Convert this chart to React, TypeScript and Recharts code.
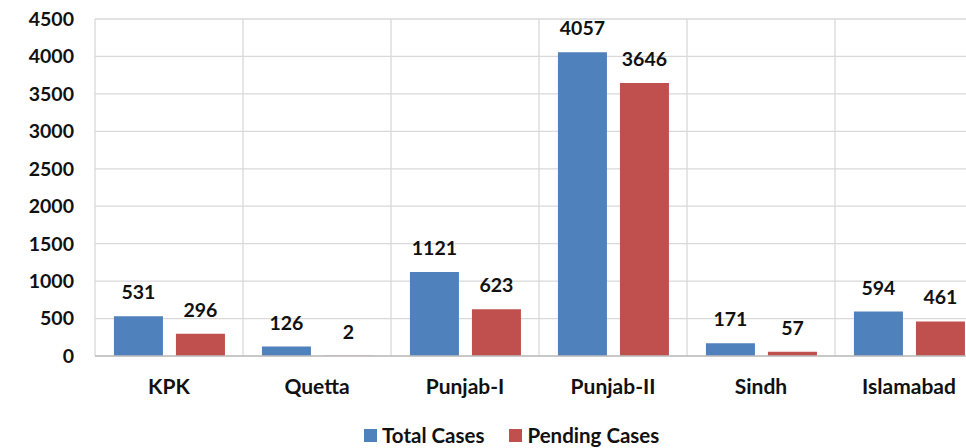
import React from 'react';
import { BarChart, Bar, XAxis, YAxis, CartesianGrid, Legend, LabelList } from 'recharts';

const regions = ['KPK', 'Quetta', 'Punjab-I', 'Punjab-II', 'Sindh', 'Islamabad'];
const totalCases = [531, 126, 1121, 4057, 171, 594];
const pendingCases = [296, 2, 623, 3646, 57, 461];
const yTicks = [0, 500, 1000, 1500, 2000, 2500, 3000, 3500, 4000, 4500];

const BLUE = '#4F81BD';
const RED = '#C0504D';
const FONT = 'Lato, "Open Sans", sans-serif';

const rows = regions.map((region, i) => ({
  region,
  total: totalCases[i],
  pending: pendingCases[i],
}));

// vertical grid lines sit on category boundaries, not centres
const boundaryLines = ({ offset }: any) =>
  regions.map((_, i) => offset.left + (i * offset.width) / regions.length);

const LegendBox = () => (
  <div style={{ display: 'flex', alignItems: 'center', fontFamily: FONT, fontWeight: 700, fontSize: 20.5, color: '#111', lineHeight: '24px' }}>
    <span style={{ width: 13, height: 13, background: BLUE, display: 'inline-block', marginRight: 5 }} />
    <span style={{ marginRight: 25 }}>Total Cases</span>
    <span style={{ width: 13, height: 13, background: RED, display: 'inline-block', marginRight: 5 }} />
    <span>Pending Cases</span>
  </div>
);

export default function App() {
  return (
    <div style={{ position: 'fixed', left: 0, top: 0, width: 966, height: 448, overflow: 'hidden', background: '#fff' }}>
      <BarChart
        width={990}
        height={448}
        data={rows}
        margin={{ top: 19, right: 7, bottom: 0, left: 0 }}
        barCategoryGap="12.8%"
        barGap={13}
      >
        <CartesianGrid stroke="#D9D9D9" strokeWidth={1.3} verticalCoordinatesGenerator={boundaryLines} />
        <XAxis
          dataKey="region"
          height={68}
          tickSize={0}
          tickMargin={23}
          axisLine={{ stroke: '#BFBFBF', strokeWidth: 1.3 }}
          tick={{ fill: '#111', fontFamily: FONT, fontWeight: 700, fontSize: 21 }}
        />
        <YAxis
          width={95}
          domain={[0, 4500]}
          ticks={yTicks}
          tickSize={0}
          tickMargin={21}
          axisLine={false}
          tick={{ fill: '#111', fontFamily: FONT, fontWeight: 700, fontSize: 19.5 }}
        />
        <Legend
          content={<LegendBox />}
          wrapperStyle={{ top: 423, left: 364, width: 'auto', bottom: 'auto' }}
        />
        <Bar dataKey="total" name="Total Cases" fill={BLUE} isAnimationActive={false}>
          <LabelList dataKey="total" position="top" offset={17} fill="#111" fontFamily={FONT} fontWeight={700} fontSize={19.5} />
        </Bar>
        <Bar dataKey="pending" name="Pending Cases" fill={RED} isAnimationActive={false}>
          <LabelList dataKey="pending" position="top" offset={17} fill="#111" fontFamily={FONT} fontWeight={700} fontSize={19.5} />
        </Bar>
      </BarChart>
    </div>
  );
}
